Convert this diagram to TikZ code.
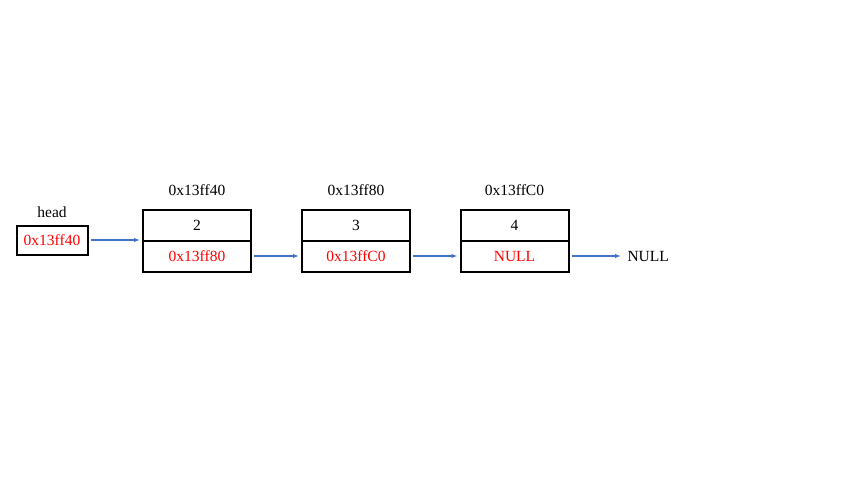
\documentclass[tikz,border=0pt]{standalone}
\usepackage{fontspec}
\setmainfont{Liberation Serif}
\usetikzlibrary{arrows.meta}
\definecolor{linkblue}{RGB}{68,114,196}
\definecolor{ptrred}{RGB}{255,0,0}
\begin{document}
\begin{tikzpicture}[x=1pt,y=-1pt,
cell/.style={draw,line width=2pt,minimum width=108,minimum height=31,inner sep=0,outer sep=0,font=\fontsize{15.5}{18}\selectfont},
ptr/.style={cell,text=ptrred},
addr/.style={font=\fontsize{15.5}{18}\selectfont},
link/.style={-{Latex[length=6pt,width=4.5pt]},linkblue,line width=1.4pt,shorten >=3pt,shorten <=3pt},
]
\useasboundingbox(0,0)rectangle(853,480);
%head
\node[ptr,minimum width=71,minimum height=29](head)at(52,240){0x13ff40};
\node[addr](headlbl)at(52,212){head};

%first node
\node[cell](d1)at(197,225){2};
\node[ptr](n1)at(197,256){0x13ff80};
\node[addr](a1)at(197,190){0x13ff40};
%second node
\node[cell](d2)at(356,225){3};
\node[ptr](n2)at(356,256){0x13ffC0};
\node[addr](a2)at(356,190){0x13ff80};
%third node
\node[cell](d3)at(514.5,225){4};
\node[ptr](n3)at(514.5,256){NULL};
\node[addr](a3)at(514.5,190){0x13ffC0};

\node[addr,anchor=west](null)at(624,256){NULL};

%links
\draw[link](head.east)--(head.east-|d1.west);
\draw[link](n1)--(n2);
\draw[link](n2)--(n3);
\draw[link](n3.east)--(n3.east-|null.west);

\end{tikzpicture}
\end{document}
